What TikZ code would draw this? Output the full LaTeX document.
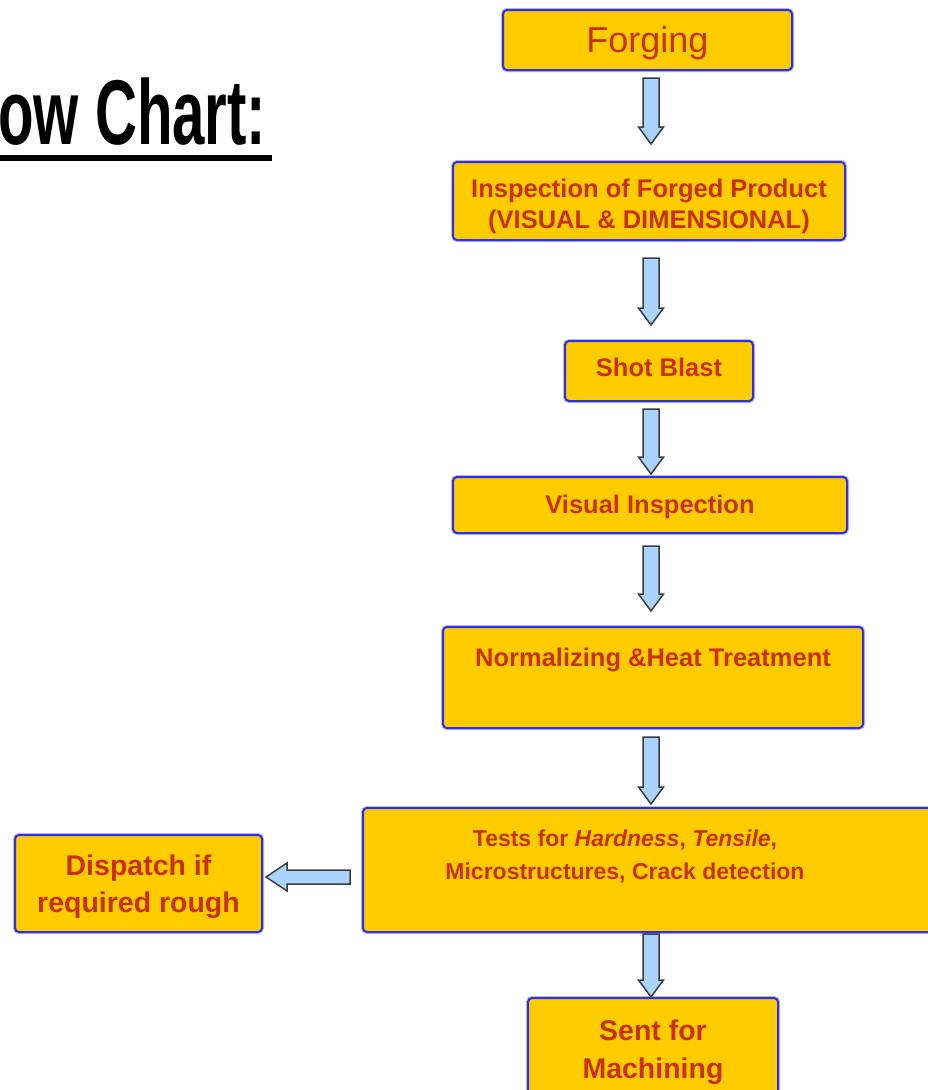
\documentclass[tikz,border=0pt]{standalone}
\usepackage{fontspec}
\setmainfont{Liberation Sans}
\newfontfamily\titlefont[FakeStretch=0.632]{Liberation Sans}
\usetikzlibrary{calc}
\definecolor{boxfill}{HTML}{FFCC00}
\definecolor{boxblue}{HTML}{2F2FE8}
\definecolor{halo}{HTML}{B8B8F4}
\definecolor{txtred}{HTML}{C83200}
\definecolor{arrowfill}{HTML}{A9D3FA}
\definecolor{arrowline}{HTML}{3C3C3C}
\tikzset{
  box/.style={draw=boxblue, line width=2pt, fill=boxfill, rounded corners=4pt,
    inner sep=0pt, text=txtred, align=center,
    preaction={draw=halo, line width=4pt}},
  txt/.style={inner sep=0pt, text=txtred, align=center},
  vflow/.style 2 args={draw=arrowline, line width=1.5pt, fill=arrowfill, line join=miter,
    to path={let \p1=(\tikztostart), \p2=(\tikztotarget) in
      (\x1-8pt,\y1-#1pt) -- (\x1-8pt,\y2+#2pt+17pt) -- (\x1-12.5pt,\y2+#2pt+17pt) --
      (\x1,\y2+#2pt) -- (\x1+12.5pt,\y2+#2pt+17pt) -- (\x1+8pt,\y2+#2pt+17pt) --
      (\x1+8pt,\y1-#1pt) -- cycle}},
  hflow/.style 2 args={draw=arrowline, line width=1.5pt, fill=arrowfill, line join=miter,
    to path={let \p1=(\tikztostart), \p2=(\tikztotarget) in
      (\x1-#1pt,\y1+7pt) -- (\x2+#2pt+21pt,\y1+7pt) -- (\x2+#2pt+21pt,\y1+14pt) --
      (\x2+#2pt,\y1) -- (\x2+#2pt+21pt,\y1-14pt) -- (\x2+#2pt+21pt,\y1-7pt) --
      (\x1-#1pt,\y1-7pt) -- cycle}},
}
\begin{document}
\begin{tikzpicture}[x=1pt,y=-1pt]
\useasboundingbox (0,0) rectangle (928,1090);
% title
\node[anchor=base west, inner sep=0pt, font=\titlefont\bfseries\fontsize{92}{96}\selectfont] (title) at (-2,144) {ow Chart:};
\coordinate (ul1) at (0,158);
\coordinate (ul2) at (272,158);
\draw[line width=6pt] (ul1) -- (ul2);
% boxes
\node[box, minimum width=289pt, minimum height=60pt, font=\fontsize{36}{40}\selectfont,
  text height=25.8pt, text depth=0pt] (forging) at (647.5,40) {Forging};
\node[box, minimum width=392pt, minimum height=78pt, font=\bfseries\fontsize{25.5}{31}\selectfont,
  text height=54.3pt, text depth=0pt] (insp) at (649,201) {Inspection of Forged Product\\(VISUAL \& DIMENSIONAL)};
\node[box, minimum width=188pt, minimum height=60pt, font=\bfseries\fontsize{25.5}{31}\selectfont,
  text height=18.3pt, text depth=8pt] (shot) at (659,371) {Shot Blast};
\node[box, minimum width=394pt, minimum height=56pt, font=\bfseries\fontsize{25.5}{31}\selectfont,
  text height=18.3pt, text depth=2pt] (visual) at (650,505) {Visual Inspection};
\node[box, minimum width=420pt, minimum height=101pt, font=\bfseries\fontsize{25.5}{31}\selectfont,
  text height=18.3pt, text depth=41pt] (norm) at (653,677.5) {Normalizing \&Heat Treatment};
\node[box, minimum width=577pt, minimum height=124pt] (tests) at (651.5,870) {};
\node[txt, font=\bfseries\fontsize{23}{33}\selectfont, text height=49.5pt, text depth=0pt] (teststxt) at (625,854.5) {Tests for \textit{Hardness}, \textit{Tensile},\\Microstructures, Crack detection};
\node[box, minimum width=247pt, minimum height=97pt, font=\bfseries\fontsize{28.5}{37}\selectfont,
  text height=57.4pt, text depth=0pt] (dispatch) at (138.5,883.5) {Dispatch if\\required rough};
\node[box, minimum width=250pt, minimum height=102pt, font=\bfseries\fontsize{28.5}{38}\selectfont,
  text height=58.4pt, text depth=0pt] (sent) at (653,1049) {Sent for\\Machining};
% arrows
\coordinate (axis) at (651,0);
\coordinate (lefty) at (0,877);
\draw[vflow={7}{17}] (forging.south -| axis) to (insp.north -| axis);
\draw[vflow={17}{15}] (insp.south -| axis) to (shot.north -| axis);
\draw[vflow={7}{2}] (shot.south -| axis) to (visual.north -| axis);
\draw[vflow={12}{15}] (visual.south -| axis) to (norm.north -| axis);
\draw[vflow={8}{3}] (norm.south -| axis) to (tests.north -| axis);
\draw[vflow={1}{0}] (tests.south -| axis) to (sent.north -| axis);
\draw[hflow={12}{3}] (tests.west |- lefty) to (dispatch.east |- lefty);
\end{tikzpicture}
\end{document}
